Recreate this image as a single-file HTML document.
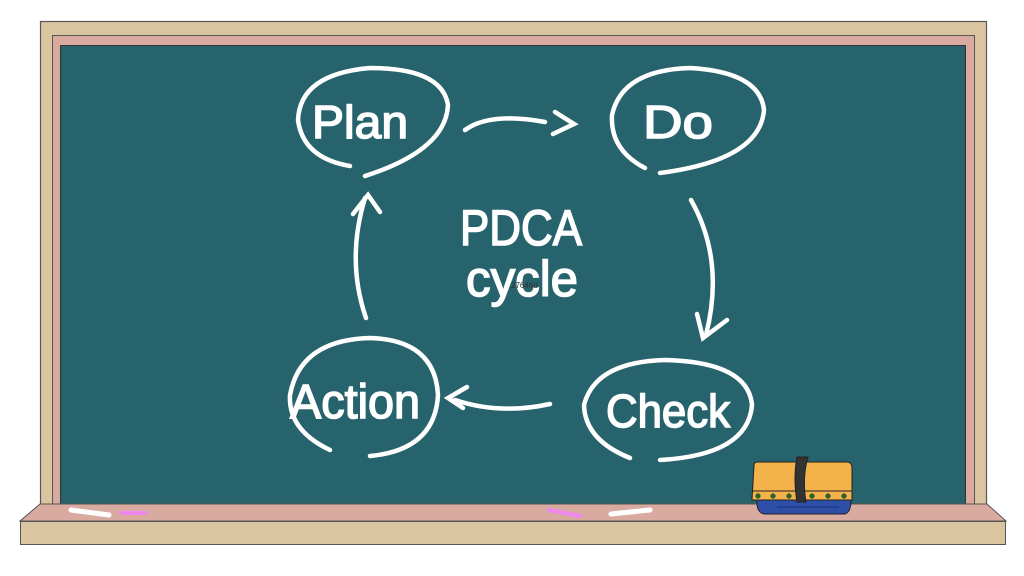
<!DOCTYPE html>
<html><head><style>html,body{margin:0;padding:0;background:#fff;width:1024px;height:576px;overflow:hidden}</style></head>
<body>
<svg width="1024" height="576" viewBox="0 0 1024 576" xmlns="http://www.w3.org/2000/svg">
<rect x="40.5" y="21.5" width="946" height="490" fill="#dbc5a0" stroke="#555" stroke-width="1.2"/>
<rect x="52.5" y="35.5" width="922" height="476" fill="#d9aaa0" stroke="#555" stroke-width="1"/>
<rect x="60.5" y="45.5" width="905" height="462" fill="#27636c" stroke="#333" stroke-width="1"/>
<polygon points="40,504 987,504 1006,521 20,521" fill="#d9aaa0" stroke="#555" stroke-width="1"/>
<rect x="20.5" y="521.5" width="985" height="23" fill="#dbc5a0" stroke="#555" stroke-width="1"/>
<g stroke-linecap="round" fill="none">
<line x1="71" y1="510" x2="109" y2="515" stroke="#fff" stroke-width="5"/>
<line x1="121" y1="513" x2="145" y2="513" stroke="#ee88ee" stroke-width="4"/>
<line x1="549" y1="510" x2="580" y2="516" stroke="#ee88ee" stroke-width="4"/>
<line x1="611" y1="514" x2="650" y2="510" stroke="#fff" stroke-width="5"/>
</g>
<path d="M757,500 Q756,513 765,514 L845,514 Q851,512 851,500 Z" fill="#2d4fa8" stroke="#222" stroke-width="1"/>
<line x1="777" y1="507" x2="839" y2="507" stroke="#1a2f70" stroke-width="1"/>
<path d="M754,465 Q754,462 758,462 L848,462 Q852,463 852,468 L852,500 L752,500 Z" fill="#f4b24a" stroke="#222" stroke-width="1"/>
<line x1="752" y1="491" x2="852" y2="491" stroke="#222" stroke-width="1"/>
<g fill="#1d6b2a" stroke="#222" stroke-width="0.5">
<circle cx="758" cy="496" r="2.3"/><circle cx="773" cy="496" r="2.3"/><circle cx="789" cy="496" r="2.3"/>
<circle cx="812" cy="496" r="2.3"/><circle cx="828" cy="496" r="2.3"/><circle cx="844" cy="496" r="2.3"/></g>
<path d="M797,457 L808,457 Q802,478 806,502 L797,502 Q793,478 797,457 Z" fill="#333" stroke="#222" stroke-width="1"/>
<g stroke="#fff" stroke-width="4.5" fill="none" stroke-linecap="round">
<path d="M350,166 Q303,158 298,120 Q300,74 370,68 Q442,68 448,105 Q446,150 365,176"/>
<path d="M645,168 Q610,150 612,115 Q622,70 690,68 Q760,72 764,110 Q760,160 660,173"/>
<path d="M330,450 Q288,430 290,395 Q300,340 370,338 Q435,340 438,395 Q435,450 370,456"/>
<path d="M630,458 Q585,440 584,405 Q595,362 665,360 Q748,362 752,405 Q748,455 660,460"/>
<path d="M465,130 Q490,112 545,122"/><path d="M555,112 L574,124 L553,134"/>
<path d="M691,200 Q725,260 706,335"/><path d="M697,314 L703,338 L727,320"/>
<path d="M550,404 Q500,415 455,400"/><path d="M467,387 L448,398 L463,408"/>
<path d="M366,318 Q346,260 365,198"/><path d="M353,214 L368,195 L380,212"/>
</g>
<g fill="#fff" stroke="#fff" stroke-width="1.5" font-family="'Liberation Sans',sans-serif">
<text x="312" y="138" font-size="46" textLength="96" lengthAdjust="spacingAndGlyphs">Plan</text>
<text x="643" y="138" font-size="46" textLength="70" lengthAdjust="spacingAndGlyphs">Do</text>
<text x="290" y="418" font-size="48" textLength="130" lengthAdjust="spacingAndGlyphs">Action</text>
<text x="606" y="427" font-size="46" textLength="124" lengthAdjust="spacingAndGlyphs">Check</text>
<text x="460" y="245" font-size="50" textLength="122" lengthAdjust="spacingAndGlyphs">PDCA</text>
<text x="466" y="296" font-size="50" textLength="112" lengthAdjust="spacingAndGlyphs">cycle</text>
</g>
<text x="511" y="288" font-size="8" fill="#333" font-family="'Liberation Sans',sans-serif">27646d</text>
</svg>
</body></html>
